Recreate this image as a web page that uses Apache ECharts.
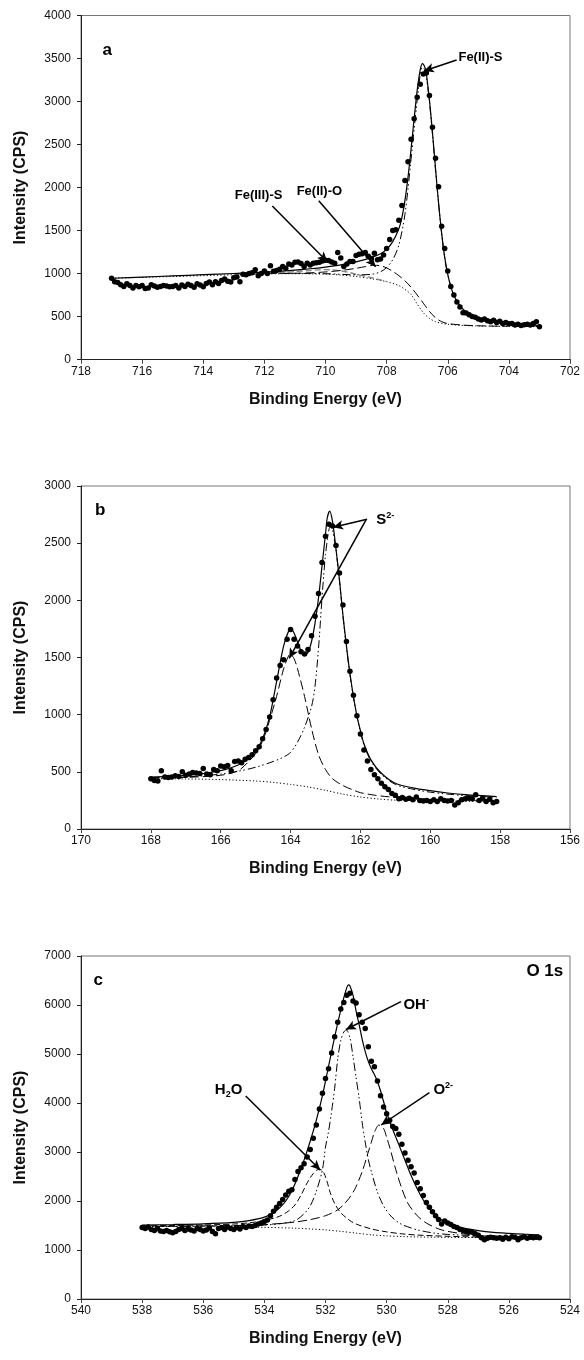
<!DOCTYPE html>
<html><head><meta charset="utf-8">
<script src="https://cdn.jsdelivr.net/npm/echarts/dist/echarts.min.js"></script>
<style>html,body{margin:0;padding:0;background:#fff}#c{width:584px;height:1360px}</style>
</head><body><div id="c"></div>
<script>
// ---------- Panel a : Fe 2p ----------
const aE=[717.0,716.9,716.8,716.7,716.6,716.5,716.4,716.3,716.2,716.1,
716.0,715.9,715.8,715.7,715.6,715.5,715.4,715.3,715.2,715.1,
715.0,714.9,714.8,714.7,714.6,714.5,714.4,714.3,714.2,714.1,
714.0,713.9,713.8,713.7,713.6,713.5,713.4,713.3,713.2,713.1,
713.0,712.9,712.8,712.7,712.6,712.5,712.4,712.3,712.2,712.1,
712.0,711.9,711.8,711.7,711.6,711.5,711.4,711.3,711.2,711.1,
711.0,710.9,710.8,710.7,710.6,710.5,710.4,710.3,710.2,710.1,
710.0,709.9,709.8,709.7,709.6,709.5,709.4,709.3,709.2,709.1,
709.0,708.9,708.8,708.7,708.6,708.5,708.4,708.3,708.2,708.1,
708.0,707.9,707.8,707.7,707.6,707.5,707.4,707.3,707.2,707.1,
707.0,706.9,706.8,706.7,706.6,706.5,706.4,706.3,706.2,706.1,
706.0,705.9,705.8,705.7,705.6,705.5,705.4,705.3,705.2,705.1,
705.0,704.9,704.8,704.7,704.6,704.5,704.4,704.3,704.2,704.1,
704.0,703.9,703.8,703.7,703.6,703.5,703.4,703.3,703.2,703.1,703.0];
const aI=[945,905,895,870,850,880,860,830,860,845,
860,825,830,870,855,840,850,860,855,845,
850,860,830,865,850,875,860,840,880,865,
845,885,900,870,905,885,920,935,910,900,
950,960,905,990,985,1000,1010,1045,975,1000,
1030,1000,1090,1025,1035,1050,1080,1060,1110,1100,
1130,1135,1115,1080,1120,1100,1120,1125,1130,1145,
1155,1150,1135,1120,1245,1180,1080,1110,1140,1140,
1210,1225,1230,1245,1200,1175,1235,1160,1170,1215,
1290,1395,1500,1510,1620,1790,2080,2300,2560,2800,
3050,3200,3320,3330,3070,2700,2340,2010,1550,1290,
1030,850,750,670,610,545,540,520,500,490,
470,460,470,450,440,455,430,445,420,430,
415,420,400,410,395,405,410,400,420,440,380];
const aEnv=[[717,945],[716,958],[715,972],[714,986],[713,1000],[712,1015],[711,1040],[710.5,1055],[710,1075],[709.5,1100],[709,1135],[708.5,1185],[708.2,1230],[708,1280],[707.8,1370],[707.6,1520],[707.5,1650],[707.4,1850],[707.3,2120],[707.2,2450],[707.1,2800],[707,3130],[706.9,3370],[706.83,3440],[706.75,3400],[706.7,3320],[706.6,3020],[706.5,2640],[706.4,2220],[706.3,1820],[706.2,1470],[706.1,1190],[706,990],[705.9,850],[705.8,745],[705.6,625],[705.4,553],[705.2,507],[705,477],[704.5,435],[704,410],[703.5,396],[703,390]];
const aFeIIS=[[712,1000],[711,1002],[710,998],[709,985],[708.5,990],[708.2,1020],[708,1070],[707.8,1160],[707.6,1330],[707.4,1690],[707.2,2330],[707,3020],[706.9,3310],[706.83,3400],[706.75,3370],[706.7,3290],[706.6,3000],[706.5,2620],[706.4,2205],[706.3,1810],[706.2,1460],[706.1,1183],[706,984],[705.8,741],[705.6,621],[705.4,550],[705.2,504],[705,474],[704.5,433],[704,408],[703,388]];
const aFeIIO=[[711.5,1000],[711,1002],[710.5,1008],[710,1018],[709.5,1035],[709,1060],[708.7,1080],[708.4,1095],[708.2,1090],[708,1065],[707.8,1025],[707.6,975],[707.4,915],[707.2,840],[707,750],[706.8,655],[706.6,560],[706.4,485],[706.2,440],[706,418],[705.5,400],[705,392],[704,386]];
const aFeIIIS=[[713,990],[712,1000],[711.5,1010],[711,1022],[710.5,1035],[710.1,1045],[709.8,1043],[709.5,1030],[709.2,1010],[709,990],[708.6,960],[708.2,925],[708,905]];
const aBg=[[717,945],[716,955],[715,965],[714,975],[713,985],[712,994],[711,998],[710,992],[709.5,982],[709,965],[708.5,940],[708,905],[707.6,860],[707.4,815],[707.2,755],[707,645],[706.8,545],[706.6,478],[706.4,440],[706.2,420],[706,410],[705.5,396],[705,390],[704,385],[703,382]];

// ---------- Panel b : S 2p ----------
const bE=[168.0,167.9,167.8,167.7,167.6,167.5,167.4,167.3,167.2,167.1,
167.0,166.9,166.8,166.7,166.6,166.5,166.4,166.3,166.2,166.1,
166.0,165.9,165.8,165.7,165.6,165.5,165.4,165.3,165.2,165.1,
165.0,164.9,164.8,164.7,164.6,164.5,164.4,164.3,164.2,164.1,
164.0,163.9,163.8,163.7,163.6,163.5,163.4,163.3,163.2,163.1,
163.0,162.9,162.8,162.7,162.6,162.5,162.4,162.3,162.2,162.1,
162.0,161.9,161.8,161.7,161.6,161.5,161.4,161.3,161.2,161.1,
161.0,160.9,160.8,160.7,160.6,160.5,160.4,160.3,160.2,160.1,
160.0,159.9,159.8,159.7,159.6,159.5,159.4,159.3,159.2,159.1,
159.0,158.9,158.8,158.7,158.6,158.5,158.4,158.3,158.2,158.1];
const bI=[440,425,420,510,455,450,455,465,460,500,
470,480,495,490,485,530,480,475,520,510,
550,545,555,510,590,595,580,610,625,650,
685,720,790,870,980,1130,1320,1430,1480,1660,
1745,1660,1600,1550,1530,1570,1690,1860,2060,2330,
2560,2665,2650,2480,2240,1960,1640,1380,1170,990,
830,690,595,520,475,440,400,370,345,310,
295,265,275,260,270,255,280,250,245,250,
240,255,240,265,250,245,250,210,230,255,
265,270,265,300,250,270,240,260,230,240];
const bEnv=[[168,455],[167.5,460],[167,470],[166.5,485],[166,510],[165.5,560],[165.2,620],[165,680],[164.8,790],[164.6,980],[164.4,1290],[164.2,1600],[164.05,1735],[163.97,1745],[163.9,1715],[163.8,1635],[163.7,1560],[163.6,1525],[163.5,1545],[163.4,1640],[163.3,1800],[163.2,2020],[163.1,2300],[163,2580],[162.95,2720],[162.88,2780],[162.8,2690],[162.7,2450],[162.6,2180],[162.5,1870],[162.4,1600],[162.3,1360],[162.2,1160],[162.1,990],[162,860],[161.9,745],[161.7,605],[161.4,488],[161,400],[160.5,360],[160,335],[159.5,315],[159,300],[158.1,283]];
const bS32=[[168,448],[167,455],[166,480],[165.5,505],[165,540],[164.5,590],[164.2,630],[164,670],[163.8,760],[163.6,890],[163.4,1070],[163.3,1250],[163.2,1580],[163.1,2020],[163,2400],[162.9,2620],[162.85,2650],[162.8,2620],[162.7,2440],[162.6,2170],[162.5,1860],[162.4,1590],[162.3,1350],[162.2,1150],[162.1,980],[162,850],[161.9,735],[161.7,595],[161.4,478],[161,390],[160.5,348],[160,322],[159.5,305],[159,292],[158.1,278]];
const bS12=[[168,448],[167,452],[166,470],[165.5,510],[165.2,590],[165,660],[164.8,770],[164.6,950],[164.4,1160],[164.2,1400],[164.05,1520],[164,1525],[163.9,1490],[163.8,1400],[163.6,1160],[163.4,880],[163.2,650],[163,520],[162.8,440],[162.5,380],[162.2,340],[162,318],[161.6,296],[161.2,282],[160.5,268],[160,260],[159,252],[158.1,250]];
const bBg=[[168,440],[167,438],[166,432],[165,420],[164.5,408],[164,390],[163.5,368],[163,338],[162.5,305],[162,280],[161.5,263],[161,252],[160,245],[159,242],[158.1,240]];

// ---------- Panel c : O 1s ----------
const cE=[538.0,537.9,537.8,537.7,537.6,537.5,537.4,537.3,537.2,537.1,
537.0,536.9,536.8,536.7,536.6,536.5,536.4,536.3,536.2,536.1,
536.0,535.9,535.8,535.7,535.6,535.5,535.4,535.3,535.2,535.1,
535.0,534.9,534.8,534.7,534.6,534.5,534.4,534.3,534.2,534.1,
534.0,533.9,533.8,533.7,533.6,533.5,533.4,533.3,533.2,533.1,
533.0,532.9,532.8,532.7,532.6,532.5,532.4,532.3,532.2,532.1,
532.0,531.9,531.8,531.7,531.6,531.5,531.4,531.3,531.2,531.1,
531.0,530.9,530.8,530.7,530.6,530.5,530.4,530.3,530.2,530.1,
530.0,529.9,529.8,529.7,529.6,529.5,529.4,529.3,529.2,529.1,
529.0,528.9,528.8,528.7,528.6,528.5,528.4,528.3,528.2,528.1,
528.0,527.9,527.8,527.7,527.6,527.5,527.4,527.3,527.2,527.1,
527.0,526.9,526.8,526.7,526.6,526.5,526.4,526.3,526.2,526.1,
526.0,525.9,525.8,525.7,525.6,525.5,525.4,525.3,525.2,525.1,525.0];
const cI=[1460,1440,1470,1420,1400,1440,1390,1380,1400,1370,
1350,1380,1420,1440,1400,1430,1410,1390,1440,1420,
1390,1410,1450,1380,1330,1440,1460,1420,1470,1440,
1420,1460,1430,1480,1460,1490,1480,1500,1530,1550,
1580,1610,1700,1790,1870,1950,2030,2120,2200,2230,
2440,2600,2680,2760,2900,3050,3280,3550,3880,4200,
4500,4700,5020,5350,5650,5920,6050,6200,6240,6080,
6040,5800,5650,5520,5150,4850,4740,4450,4150,3920,
3780,3650,3520,3480,3360,3160,2980,2830,2700,2570,
2380,2250,2110,1970,1870,1780,1700,1620,1530,1590,
1550,1520,1480,1460,1420,1400,1380,1370,1360,1330,
1300,1250,1210,1240,1260,1250,1240,1250,1220,1260,
1230,1270,1260,1210,1250,1270,1240,1260,1250,1260,1250];
const cEnv=[[538,1510],[537,1520],[536,1535],[535,1565],[534.5,1600],[534,1670],[533.7,1760],[533.5,1860],[533.3,2000],[533.1,2210],[532.9,2500],[532.7,2840],[532.5,3220],[532.3,3650],[532.1,4150],[531.9,4750],[531.7,5350],[531.5,5900],[531.4,6150],[531.3,6360],[531.25,6410],[531.2,6390],[531.1,6200],[531,5880],[530.9,5600],[530.8,5300],[530.7,5050],[530.6,4850],[530.5,4700],[530.4,4580],[530.3,4440],[530.2,4250],[530.1,4030],[530,3800],[529.8,3460],[529.6,3150],[529.4,2830],[529.2,2520],[529,2250],[528.8,2020],[528.6,1850],[528.4,1710],[528.2,1610],[528,1540],[527.5,1450],[527,1395],[526.5,1360],[526,1340],[525.5,1322],[525,1310]];
const cH2O=[[538,1495],[537,1500],[536,1510],[535,1530],[534.5,1555],[534,1600],[533.5,1690],[533.2,1800],[533,1920],[532.8,2120],[532.6,2370],[532.4,2560],[532.25,2640],[532.15,2640],[532.05,2570],[531.95,2400],[531.85,2180],[531.7,1950],[531.5,1760],[531.2,1600],[531,1530],[530.5,1430],[530,1370],[529.5,1330],[529,1305],[528,1280],[527,1265],[525,1255]];
const cOH=[[538,1485],[537,1488],[536,1492],[535,1498],[534,1510],[533.5,1535],[533,1600],[532.7,1740],[532.5,1900],[532.3,2200],[532.1,2640],[532,3100],[531.9,3420],[531.8,3830],[531.7,4300],[531.6,4900],[531.5,5280],[531.4,5450],[531.32,5490],[531.2,5330],[531.1,4950],[531,4520],[530.9,4100],[530.8,3600],[530.7,3200],[530.6,2850],[530.5,2600],[530.3,2180],[530.1,1900],[529.9,1720],[529.7,1600],[529.5,1520],[529.2,1450],[529,1410],[528.5,1350],[528,1318],[527,1290],[526,1275],[525,1265]];
const cO2=[[538,1480],[536,1488],[535,1498],[534,1518],[533,1570],[532.5,1620],[532,1700],[531.6,1820],[531.3,2000],[531.05,2230],[530.8,2600],[530.6,3000],[530.5,3200],[530.4,3400],[530.25,3550],[530.1,3480],[530,3300],[529.9,3100],[529.7,2640],[529.5,2250],[529.3,1950],[529,1700],[528.7,1550],[528.3,1430],[528,1380],[527.5,1330],[527,1300],[526,1275],[525,1265]];
const cBg=[[538,1480],[536,1478],[535,1474],[534,1462],[533,1445],[532.5,1430],[532,1410],[531.5,1380],[531,1345],[530.5,1310],[530,1288],[529.5,1275],[529,1266],[528,1258],[527,1254],[525,1250]];

// ---------- axes ----------
const xRanges=[[702,718],[156,170],[524,540]];
const xStep=2;
const yRanges=[[0,4000],[0,3000],[0,7000]];
const ySteps=[500,500,1000];
const xTitle='Binding Energy (eV)';
const yTitle='Intensity (CPS)';

const F="'Liberation Sans', Arial, Helvetica, sans-serif";
const pairs=(E,I)=>E.map((e,k)=>[e,I[k]]);
const grids=[{top:15.5,height:344},{top:486,height:343},{top:956,height:343}];
const plain=v=>String(v);

const option={animation:false,backgroundColor:'#fff',grid:[],xAxis:[],yAxis:[],series:[]};
grids.forEach((g,i)=>{
  option.grid.push({left:81,width:489,top:g.top,height:g.height,show:true,borderColor:'#777',borderWidth:1,backgroundColor:'transparent'});
  option.xAxis.push({gridIndex:i,type:'value',min:xRanges[i][0],max:xRanges[i][1],interval:xStep,inverse:true,position:'bottom',
    axisLine:{show:true,onZero:false,lineStyle:{color:'#222',width:1}},
    axisTick:{show:true,inside:false,length:4,lineStyle:{color:'#222'}},
    axisLabel:{fontSize:12,color:'#111',margin:6,fontFamily:F,formatter:plain},
    splitLine:{show:false},
    name:xTitle,nameLocation:'middle',nameGap:32,nameTextStyle:{fontSize:16,fontWeight:'bold',color:'#111',fontFamily:F}});
  option.xAxis.push({gridIndex:i,type:'value',min:xRanges[i][0],max:xRanges[i][1],interval:xStep,inverse:true,position:'top',
    axisLine:{show:false},axisTick:{show:true,inside:true,length:4,lineStyle:{color:'#444'}},axisLabel:{show:false},splitLine:{show:false}});
  option.yAxis.push({gridIndex:i,type:'value',min:yRanges[i][0],max:yRanges[i][1],interval:ySteps[i],
    axisLine:{show:true,onZero:false,lineStyle:{color:'#222',width:1}},
    axisTick:{show:true,inside:false,length:4,lineStyle:{color:'#222'}},
    axisLabel:{fontSize:12,color:'#111',margin:10,fontFamily:F,formatter:plain},
    splitLine:{show:false},
    name:yTitle,nameLocation:'middle',nameGap:52,nameTextStyle:{fontSize:16,fontWeight:'bold',color:'#111',fontFamily:F}});
});

const DASHDOT2=[8,3,1.5,2.5,1.5,3];
const DASH=[9,4];
const SHORTDASH=[6,3];
const DOT=[1.2,2.2];
function curve(i,data,type,color,width){
  return {type:'line',xAxisIndex:i*2,yAxisIndex:i,data:data,showSymbol:false,symbol:'none',smooth:0.3,
    lineStyle:{color:color,width:width,type:type,opacity:1},silent:true,z:3};
}
function dots(i,data){
  return {type:'scatter',xAxisIndex:i*2,yAxisIndex:i,data:data,symbol:'circle',symbolSize:5.5,
    itemStyle:{color:'#000',opacity:1},silent:true,z:4};
}
const txt=(v,text,align,size,rich)=>({value:v,label:{show:true,position:[0,0],align:align,verticalAlign:'middle',
  formatter:text,fontSize:size,fontWeight:'bold',color:'#000',opacity:1,fontFamily:F,rich:rich||{}}});
const RICH={m:{fontSize:15,fontWeight:'bold',color:'#000',fontFamily:F,lineHeight:18},
  sup:{fontSize:9,fontWeight:'bold',color:'#000',fontFamily:F,verticalAlign:'top',lineHeight:9},
  sub:{fontSize:9,fontWeight:'bold',color:'#000',fontFamily:F,verticalAlign:'bottom',lineHeight:9}};
function notes(i,items,arrows){
  return {type:'scatter',xAxisIndex:i*2,yAxisIndex:i,symbolSize:0,data:items,silent:true,z:10,
    itemStyle:{opacity:1},
    markLine:{silent:true,symbol:['none','arrow'],symbolSize:[7,10],animation:false,
      lineStyle:{color:'#000',width:1.5,type:'solid',opacity:1},label:{show:false},
      data:arrows.map(a=>[{coord:a[0]},{coord:a[1]}])}};
}

// panel a
option.series.push(curve(0,aBg,DOT,'#000',1));
option.series.push(curve(0,aFeIIIS,SHORTDASH,'#888',1.4));
option.series.push(curve(0,aFeIIO,DASH,'#000',1));
option.series.push(curve(0,aFeIIS,DASHDOT2,'#000',1));
option.series.push(curve(0,aEnv,'solid','#000',1.2));
option.series.push(dots(0,pairs(aE,aI)));
option.series.push(notes(0,[
  txt([717.3,3600],'a','left',17),
  txt([705.65,3517],'Fe(II)-S','left',13),
  txt([712.19,1913],'Fe(III)-S','center',13),
  txt([710.2,1951],'Fe(II)-O','center',13)
],[[[705.71,3483],[706.78,3355]],[[711.74,1785],[709.94,1137]],[[710.22,1847],[708.36,1079]]]));

// panel b
option.series.push(curve(1,bBg,DOT,'#000',1));
option.series.push(curve(1,bS12,DASH,'#000',1));
option.series.push(curve(1,bS32,DASHDOT2,'#000',1));
option.series.push(curve(1,bEnv,'solid','#000',1.2));
option.series.push(dots(1,pairs(bE,bI)));
option.series.push(notes(1,[
  txt([169.6,2791],'b','left',17),
  txt([161.55,2703],'{m|S}{sup|2-}','left',15,RICH)
],[[[161.81,2710],[162.78,2640]],[[161.84,2703],[164.04,1493]]]));

// panel c
option.series.push(curve(2,cBg,DOT,'#000',1));
option.series.push(curve(2,cH2O,SHORTDASH,'#000',1));
option.series.push(curve(2,cO2,DASH,'#000',1));
option.series.push(curve(2,cOH,DASHDOT2,'#000',1));
option.series.push(curve(2,cEnv,'solid','#000',1.2));
option.series.push(dots(2,pairs(cE,cI)));
option.series.push(notes(2,[
  txt([539.59,6510],'c','left',17),
  txt([524.22,6680],'O 1s','right',17),
  txt([529.45,6000],'{m|OH}{sup|-}','left',15,RICH),
  txt([528.47,4265],'{m|O}{sup|2-}','left',15,RICH),
  txt([535.17,4265],'{m|H}{sub|2}{m|O}','center',15,RICH)
],[[[529.53,6069],[531.33,5500]],[[528.6,4214],[530.18,3551]],[[534.61,4143],[532.17,2633]]]));

const chart=echarts.init(document.getElementById('c'),null,{renderer:'canvas'});
chart.setOption(option);
</script></body></html>
